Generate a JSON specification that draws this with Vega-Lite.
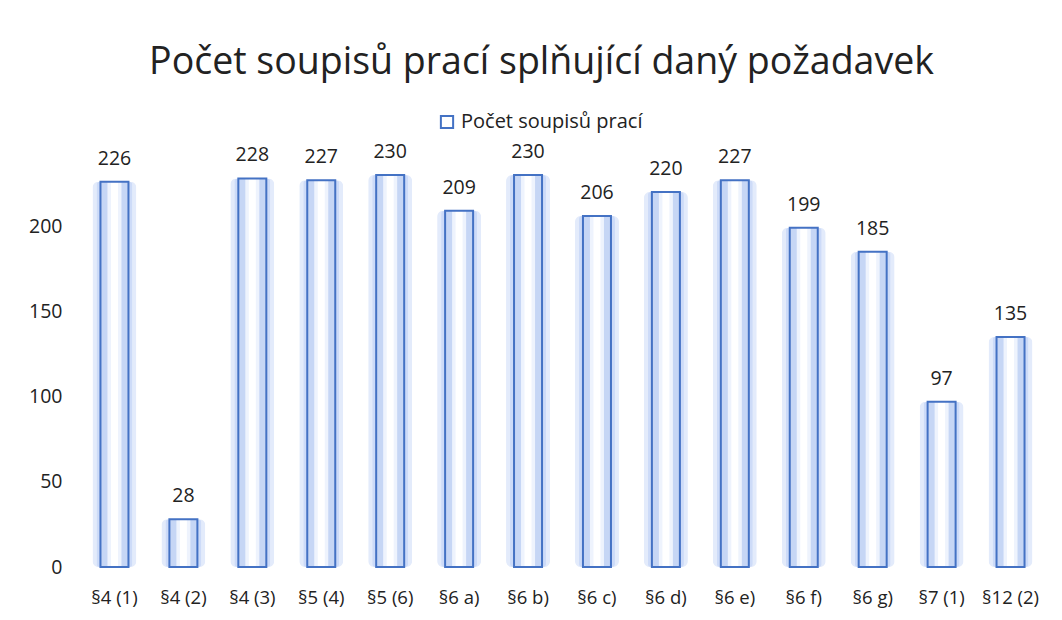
{
  "$schema": "https://vega.github.io/schema/vega-lite/v6.json",
  "width": 965,
  "height": 409,
  "autosize": {"type": "none"},
  "padding": {"left": 80, "top": 158, "right": 17, "bottom": 53},
  "background": "white",
  "config": {"view": {"stroke": null}, "font": "Open Sans"},
  "title": {"text": "Počet soupisů prací splňující daný požadavek", "fontSize": 37.5, "fontWeight": "normal", "color": "#222222", "anchor": "middle", "frame": "group", "offset": 31, "dx": -21, "font": "Open Sans"},
  "data": {"values": [
    {"k": "§4 (1)", "v": 226, "s": "Počet soupisů prací"},
    {"k": "§4 (2)", "v": 28, "s": "Počet soupisů prací"},
    {"k": "§4 (3)", "v": 228, "s": "Počet soupisů prací"},
    {"k": "§5 (4)", "v": 227, "s": "Počet soupisů prací"},
    {"k": "§5 (6)", "v": 230, "s": "Počet soupisů prací"},
    {"k": "§6 a)", "v": 209, "s": "Počet soupisů prací"},
    {"k": "§6 b)", "v": 230, "s": "Počet soupisů prací"},
    {"k": "§6 c)", "v": 206, "s": "Počet soupisů prací"},
    {"k": "§6 d)", "v": 220, "s": "Počet soupisů prací"},
    {"k": "§6 e)", "v": 227, "s": "Počet soupisů prací"},
    {"k": "§6 f)", "v": 199, "s": "Počet soupisů prací"},
    {"k": "§6 g)", "v": 185, "s": "Počet soupisů prací"},
    {"k": "§7 (1)", "v": 97, "s": "Počet soupisů prací"},
    {"k": "§12 (2)", "v": 135, "s": "Počet soupisů prací"}
  ]},
  "encoding": {
    "x": {"field": "k", "type": "nominal", "sort": null, "scale": {"paddingInner": 0, "paddingOuter": 0},
      "axis": {"title": null, "labelAngle": 0, "labelFontSize": 18.5, "labelColor": "#222222", "ticks": false, "domain": false, "labelPadding": 21, "labelFont": "Open Sans"}},
    "y": {"field": "v", "type": "quantitative", "scale": {"domain": [0, 240], "nice": false},
      "axis": {"title": null, "values": [0, 50, 100, 150, 200], "grid": false, "ticks": false, "domain": false, "labelFontSize": 19.5, "labelColor": "#222222", "labelPadding": 18, "labelFont": "Open Sans"}}
  },
  "layer": [
    {"mark": {"type": "bar", "size": 44, "color": "#e3ebfb", "cornerRadius": 6}, "encoding": {}},
    {"mark": {"type": "bar", "size": 36, "color": "#cddbf8", "cornerRadius": 3}, "encoding": {}},
    {"mark": {"type": "bar", "size": 28, "color": "#c6d6f5"}, "encoding": {}},
    {"mark": {"type": "bar", "size": 14, "color": "#eef3fd"}, "encoding": {}},
    {"mark": {"type": "bar", "size": 7, "color": "#ffffff"}, "encoding": {}},
    {"mark": {"type": "bar", "size": 28, "fill": "transparent", "strokeWidth": 2}, "encoding": {"stroke": {"field": "s", "type": "nominal", "scale": {"range": ["#4472c4"]}, "legend": {"title": null, "orient": "none", "legendX": 357, "legendY": -46, "direction": "horizontal", "symbolType": "square", "symbolSize": 150, "symbolFillColor": "white", "symbolStrokeWidth": 2, "labelFontSize": 20, "labelLimit": 400, "labelColor": "#222222", "labelFont": "Open Sans", "labelOffset": 4}}}},
    {"mark": {"type": "text", "baseline": "bottom", "dy": -13, "fontSize": 19.5, "color": "#222222", "font": "Open Sans"}, "encoding": {"text": {"field": "v", "type": "quantitative"}}}
  ]
}
